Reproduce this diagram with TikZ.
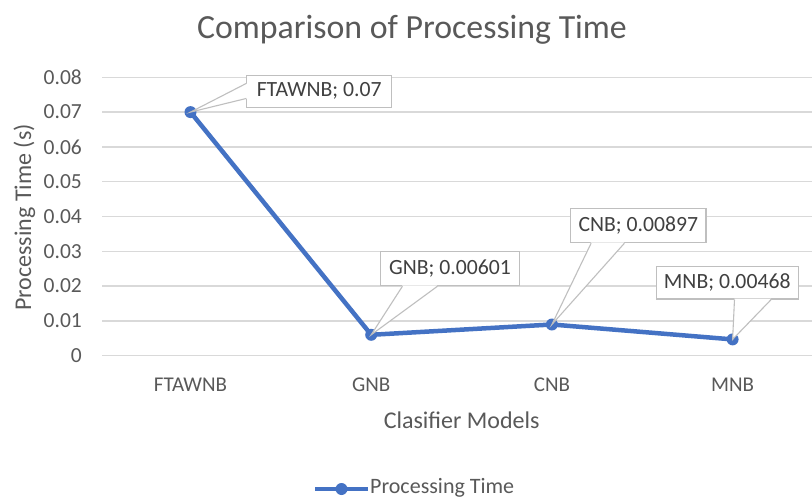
\documentclass[tikz,border=0pt]{standalone}
\usepackage{fontspec}
\setmainfont{Carlito}
\usetikzlibrary{calc}
\definecolor{gridc}{HTML}{D9D9D9}
\definecolor{axtext}{HTML}{595959}
\definecolor{lbltext}{HTML}{404040}
\definecolor{boxc}{HTML}{BFBFBF}
\definecolor{series}{HTML}{4472C4}
\tikzset{
  gridline/.style={draw=gridc, line width=1.3pt},
  ticklbl/.style={anchor=east, inner sep=0pt, text=axtext, font=\fontsize{21.5}{24}\selectfont},
  catlbl/.style={anchor=base, inner sep=0pt, text=axtext, font=\fontsize{21}{24}\selectfont},
  axtitle/.style={anchor=base, inner sep=0pt, text=axtext, font=\fontsize{24}{28}\selectfont},
  serline/.style={draw=series, line width=4.5pt, line join=round, line cap=round},
  marker/.style={circle, fill=series, inner sep=0pt, minimum size=12pt},
  callout/.style={draw=boxc, line width=1.1pt, fill=white, inner sep=0pt, minimum height=33pt, text=lbltext, font=\fontsize{21.7}{24}\selectfont},
  wedgeline/.style={draw=boxc, line width=1.1pt},
}
\begin{document}
\begin{tikzpicture}[x=1pt, y=-1pt]
\path[use as bounding box, fill=white] (0,0) rectangle (812,498);
% title
\node[anchor=base, inner sep=0pt, text=axtext, font=\fontsize{33.8}{40}\selectfont] (title) at (412,38.5) {Comparison of Processing Time};
% grid and ticks
\foreach \v/\t in {0/0, 1/0.01, 2/0.02, 3/0.03, 4/0.04, 5/0.05, 6/0.06, 7/0.07, 8/0.08} {
  \coordinate (gl\v) at (102, 355.7-34.8*\v);
  \coordinate (gr\v) at (812, 355.7-34.8*\v);
  \draw[gridline] (gl\v) -- (gr\v);
  \node[ticklbl] (tk\v) at (82, 355.7-34.8*\v) {\t};
}
% axis titles
\node[axtitle, rotate=90] (ytitle) at (31,217.5) {Processing Time (s)};
\node[axtitle] (xtitle) at (461.7,428) {Clasifier Models};
% categories
\node[catlbl] (c1) at (190.5,391) {FTAWNB};
\node[catlbl] (c2) at (371.2,391) {GNB};
\node[catlbl] (c3) at (551.9,391) {CNB};
\node[catlbl] (c4) at (732.6,391) {MNB};
% data
\coordinate (p1) at (190.5,112.1);
\coordinate (p2) at (371.2,334.8);
\coordinate (p3) at (551.9,324.5);
\coordinate (p4) at (732.6,339.4);
\draw[serline] (p1) -- (p2) -- (p3) -- (p4);
\foreach \i in {1,2,3,4} { \node[marker] (m\i) at (p\i) {}; }
% callouts
\node[callout, minimum width=145pt, minimum height=32.3pt] (b1) at (319.2,91.2) {FTAWNB; 0.07};
\fill[white] ($(b1.north west)+(1,9)$) -- (p1) -- ($(b1.north west)+(1,24)$) -- cycle;
\draw[wedgeline] ($(b1.north west)+(0,9)$) -- (p1) -- ($(b1.north west)+(0,24)$);
\node[callout, minimum width=138.6pt, minimum height=34pt] (b2) at (450,268.7) {GNB; 0.00601};
\fill[white] ($(b2.south west)+(22.3,-1)$) -- (p2) -- ($(b2.south west)+(57.3,-1)$) -- cycle;
\draw[wedgeline] ($(b2.south west)+(22.3,0)$) -- (p2) -- ($(b2.south west)+(57.3,0)$);
\node[callout, minimum width=135.3pt, minimum height=34.4pt] (b3) at (638.3,225.5) {CNB; 0.00897};
\fill[white] ($(b3.south west)+(21,-1)$) -- (p3) -- ($(b3.south west)+(54.3,-1)$) -- cycle;
\draw[wedgeline] ($(b3.south west)+(21,0)$) -- (p3) -- ($(b3.south west)+(54.3,0)$);
\node[callout, minimum width=142.3pt, minimum height=32.3pt] (b4) at (727.2,282.8) {MNB; 0.00468};
\fill[white] ($(b4.south west)+(79,-1)$) -- (p4) -- ($(b4.south west)+(115.7,-1)$) -- cycle;
\draw[wedgeline] ($(b4.south west)+(79,0)$) -- (p4) -- ($(b4.south west)+(115.7,0)$);
% legend
\coordinate (l1) at (315,489);
\coordinate (l2) at (368,489);
\draw[serline, line cap=butt] (l1) -- (l2);
\node[marker] (lm) at ($(l1)!0.5!(l2)$) {};
\node[anchor=base west, inner sep=0pt, text=axtext, font=\fontsize{22}{24}\selectfont] (lt) at (370,493.5) {Processing Time};
\end{tikzpicture}
\end{document}
